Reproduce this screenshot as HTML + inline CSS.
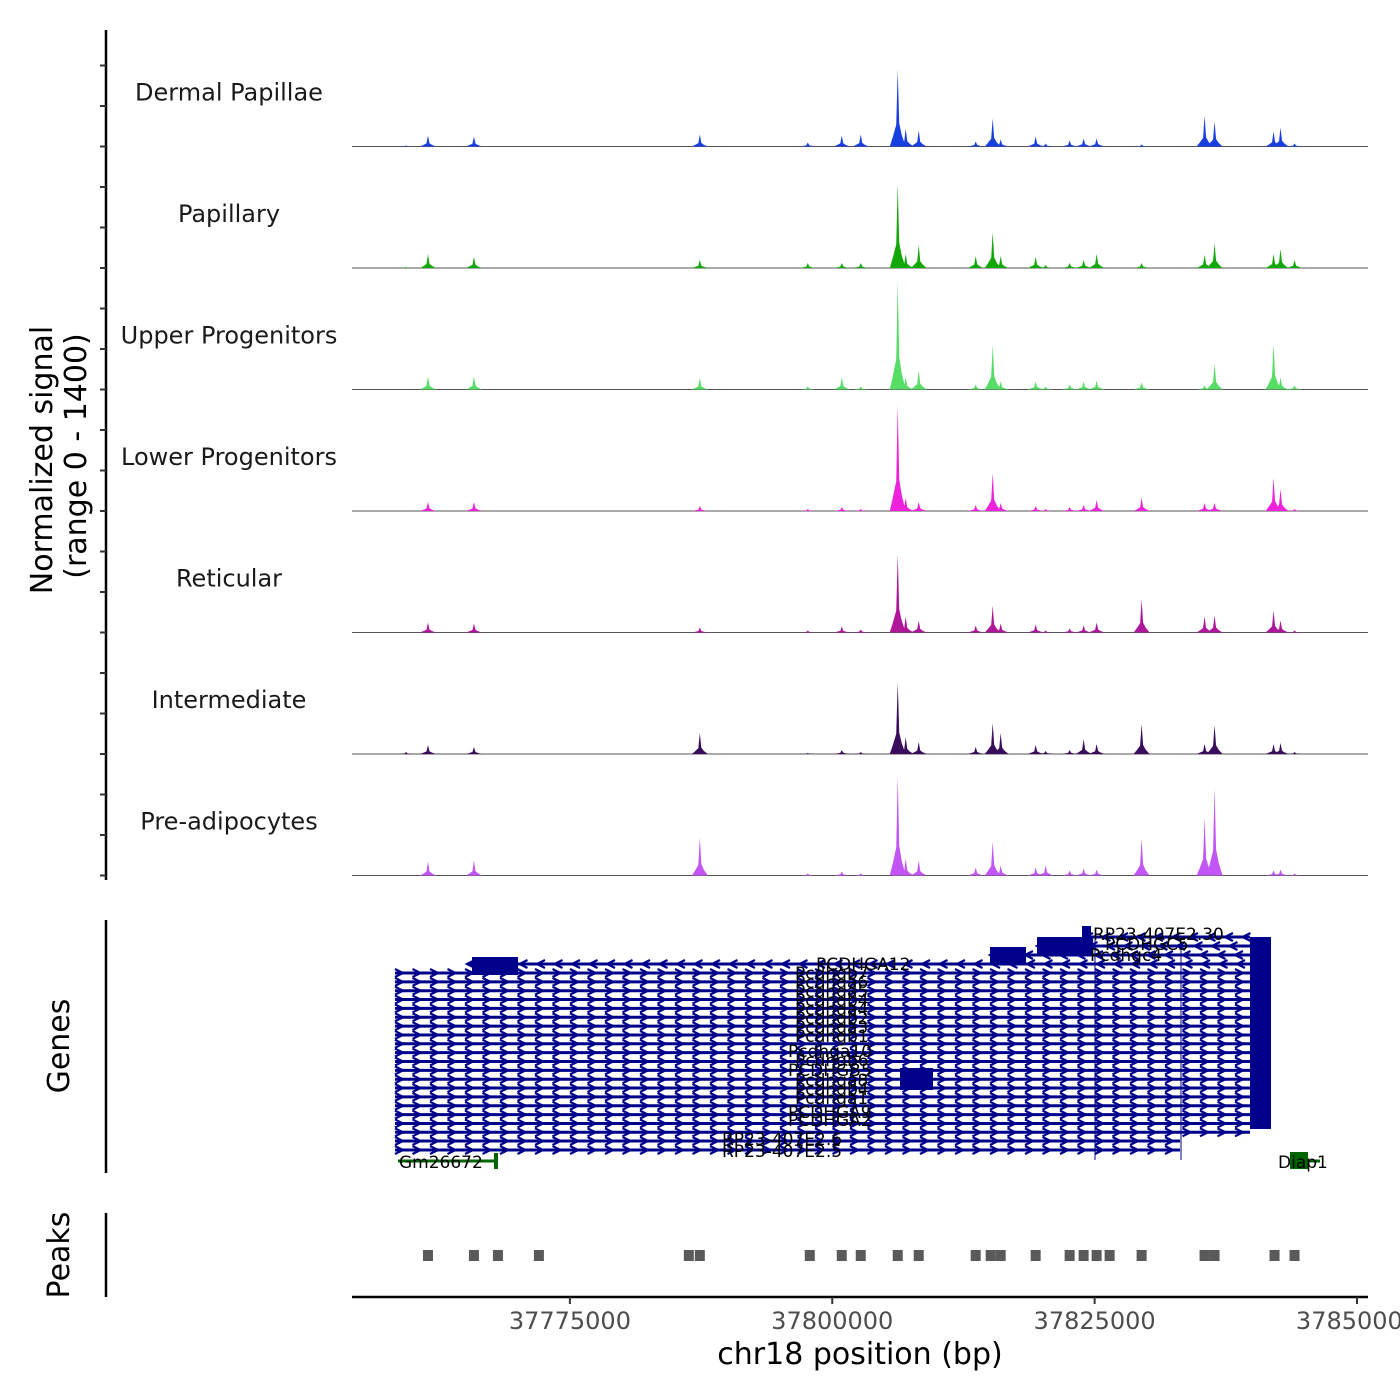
<!DOCTYPE html>
<html><head><meta charset="utf-8"><style>
html,body{margin:0;padding:0;background:#fff}
svg{display:block;font-family:"DejaVu Sans","Liberation Sans",sans-serif}
</style></head><body>
<svg id="c" width="1400" height="1400" viewBox="0 0 1400 1400" xmlns="http://www.w3.org/2000/svg">
<g id="axes">
<line x1="106" y1="30" x2="106" y2="880" stroke="#000" stroke-width="2.5"/>
<line x1="106" y1="920" x2="106" y2="1173" stroke="#000" stroke-width="2.5"/>
<line x1="106" y1="1213" x2="106" y2="1297" stroke="#000" stroke-width="2.5"/>
<line x1="352" y1="1297" x2="1368" y2="1297" stroke="#000" stroke-width="2.5"/>
<text transform="translate(52,460) rotate(-90)" text-anchor="middle" font-size="30" fill="#000">Normalized signal</text>
<text transform="translate(86,456) rotate(-90)" text-anchor="middle" font-size="30" fill="#000">(range 0 - 1400)</text>
<text transform="translate(69,1046) rotate(-90)" text-anchor="middle" font-size="30" fill="#000">Genes</text>
<text transform="translate(69,1255) rotate(-90)" text-anchor="middle" font-size="30" fill="#000">Peaks</text>
<text x="860" y="1364" text-anchor="middle" font-size="30" fill="#000">chr18 position (bp)</text>
</g>
<g id="tracks"></g>
<g id="genes"></g>
<g id="peaks"></g>
<g id="xticks"></g>
</svg>
<script>
const NS = "http://www.w3.org/2000/svg";
const trackNames = ["Dermal Papillae","Papillary","Upper Progenitors","Lower Progenitors","Reticular","Intermediate","Pre-adipocytes"];
const trackColors = ["#1a3fe0","#12a80a","#55dd66","#ee22dd","#b0169a","#3a0d5c","#c255f5"];
const peakPositions = [37759381,37761476,37765857,37787381,37797667,37800905,37802714,37806238,37807000,37808238,37813667,37815286,37816048,37819381,37820333,37822619,37823952,37825190,37829476,37835476,37836428,37842048,37842714,37844048];
const dermalValues = [12,132,120,144,48,132,144,924,216,192,60,336,84,120,36,72,96,96,24,372,300,180,228,36];
const papillaryValues = [12,168,132,96,60,60,60,1008,168,276,144,432,144,132,36,60,96,168,60,156,300,168,228,96];
const upperValues = [0,156,156,132,36,144,36,1296,144,228,60,540,96,96,36,60,96,108,84,48,312,552,144,48];
const lowerValues = [0,108,108,60,24,48,24,1272,156,108,72,456,96,60,24,48,72,132,156,96,96,396,264,24];
const reticularValues = [0,120,108,60,24,72,36,936,192,144,84,324,108,96,24,48,84,120,396,192,204,264,144,24];
const intermediateValues = [24,108,84,252,12,48,24,864,204,144,84,372,252,108,36,48,180,120,360,120,348,120,132,24];
const preadipValues = [0,168,180,456,24,48,24,1188,204,180,96,408,120,96,120,60,84,72,444,696,1056,60,72,24];
const trackValues = [dermalValues,papillaryValues,upperValues,lowerValues,reticularValues,intermediateValues,preadipValues];
const xTickValues = [37775000,37800000,37825000,37850000];
const xTickLabels = ["37775000","37800000","37825000","37850000"];
const peakCalls = [37761476,37765857,37768143,37772048,37786333,37787381,37797857,37800905,37802714,37806238,37808238,37813667,37815095,37816048,37819381,37822619,37823952,37825190,37826428,37829476,37835476,37836428,37842143,37844048];

const X0 = 37754238, X1 = 37851048, PX0 = 352, PX1 = 1368;
function xs(bp){ return PX0 + (bp - X0) / (X1 - X0) * (PX1 - PX0); }
const trackH = 121.5, base0 = 146.5, vmax = 1400, plotH = 116.7;
function ys(v, k){ return base0 + k * trackH - v / vmax * plotH; }
function mk(tag, attrs, parent){ const e = document.createElementNS(NS, tag); for (const a in attrs) e.setAttribute(a, attrs[a]); parent.appendChild(e); return e; }

const gT = document.getElementById("tracks");
trackNames.forEach((nm, k) => {
  const g = mk("g", {}, gT);
  
  
  const b = base0 + k * trackH;
  for (let t = 0; t < 3; t++) {
    const tk = mk("line", {x1:100, x2:106, y1:b - t*40.5, y2:b - t*40.5, stroke:"#333", "stroke-width":2}, g);
    
    
  }
  const lab = mk("text", {x:229, y:b - 46, "text-anchor":"middle", "font-size":24, fill:"#1a1a1a"}, g);
  lab.textContent = nm;
  
  
  const bl = mk("line", {x1:352, x2:1368, y1:b, y2:b, stroke:"#555", "stroke-width":1}, g);
  
  
  trackValues[k].forEach((v, i) => {
    if (v <= 0) return;
    const x = xs(peakPositions[i]);
    const top = ys(v, k), h = b - top;
    const d = `M${x-8},${b} L${x-5},${b-0.12*h} L${x-1.5},${b-0.28*h} L${x},${top} L${x+1.5},${b-0.3*h} L${x+4},${b-0.15*h} L${x+8},${b} Z`;
    const p = mk("path", {d:d, fill:trackColors[k]}, g);
    
    
  });
});

const gG = document.getElementById("genes");
const navy = "#00008b";
function row(x1, x2, y, dir){
  const ln = mk("line", {x1:x1, x2:x2, y1:y, y2:y, stroke:navy, "stroke-width":3}, gG);
  
  
  let pts = "";
  for (let x = x1 + 4; x < x2 - 2; x += 17.5) {
    const d = dir * 4;
    pts += `M${x+d},${y-4} L${x-d},${y} L${x+d},${y+4} `;
  }
  const ch = mk("path", {d:pts, stroke:navy, "stroke-width":2.2, fill:"none"}, gG);
  
  
}
function box(x, y, w, h, col){
  const r = mk("rect", {x:x, y:y, width:w, height:h, fill:col || navy}, gG);
  
  
}
row(1085, 1250, 937, 1);
row(1037, 1250, 946, 1);
row(990, 1250, 955, 1);
row(467, 1250, 964, 1);
for (let i = 0; i < 19; i++) row(395, 1250, 973 + i * 8.85, -1);
row(395, 1180, 1141, -1);
row(395, 1180, 1150, -1);
box(472, 957, 46, 18);
box(990, 947, 36, 18);
box(1037, 937, 56, 18);
box(1082, 926, 9, 14);
box(900, 1068, 33, 22);
box(1250, 937, 21, 192);
[1095, 1181].forEach(x => {
  const vl = mk("line", {x1:x, x2:x, y1:940, y2:1160, stroke:navy, "stroke-width":1}, gG);
  
  
});
const gl = mk("line", {x1:398, x2:497, y1:1161, y2:1161, stroke:"#006400", "stroke-width":3}, gG);


box(494, 1153, 4, 16, "#006400");
box(1290, 1152, 18, 17, "#006400");
const gl2 = mk("line", {x1:1290, x2:1320, y1:1161, y2:1161, stroke:"#006400", "stroke-width":3}, gG);


const labels = [
  ["PCDHGA12",816,970],["Pcdhgb7",795,979],["Pcdhga6",795,988],["Pcdhga5",795,997],["Pcdhgb4",795,1006],
  ["Pcdhga4",795,1015],["Pcdhgb2",795,1024],["Pcdhga3",795,1033],["Pcdhgb1",795,1042],["Pcdhga10",788,1057],
  ["Pcdhgb6",795,1066],["PCDHGB5",788,1076],["Pcdhga8",795,1086],["Pcdhgb4",795,1095],["Pcdhga1",795,1104],
  ["PCDHGA9",788,1118],["PCDHGA2",788,1126],["RP23-407E2.6",722,1145],["RP23-407E2.5",722,1157],
  ["RP23-407E2.30",1093,940],["PCDHGC5",1105,950],["Pcdhgc4",1090,961],["Gm26672",399,1168],["Diap1",1278,1168]
];
labels.forEach(l => {
  const t = mk("text", {x:l[1], y:l[2], "font-size":17, fill:"#000"}, gG);
  t.textContent = l[0];
  
  
});

const gP = document.getElementById("peaks");
peakCalls.forEach(bp => {
  const r = mk("rect", {x:xs(bp) - 5, y:1250, width:10, height:11, fill:"#5a5a5a"}, gP);
  
  
});

const gX = document.getElementById("xticks");
xTickValues.forEach((v, i) => {
  const x = xs(v);
  const tk = mk("line", {x1:x, x2:x, y1:1297, y2:1304, stroke:"#333", "stroke-width":2}, gX);
  
  
  const t = mk("text", {x:x, y:1329, "text-anchor":"middle", "font-size":24, fill:"#4d4d4d"}, gX);
  t.textContent = xTickLabels[i];
  
  
});
</script>
</body></html>
